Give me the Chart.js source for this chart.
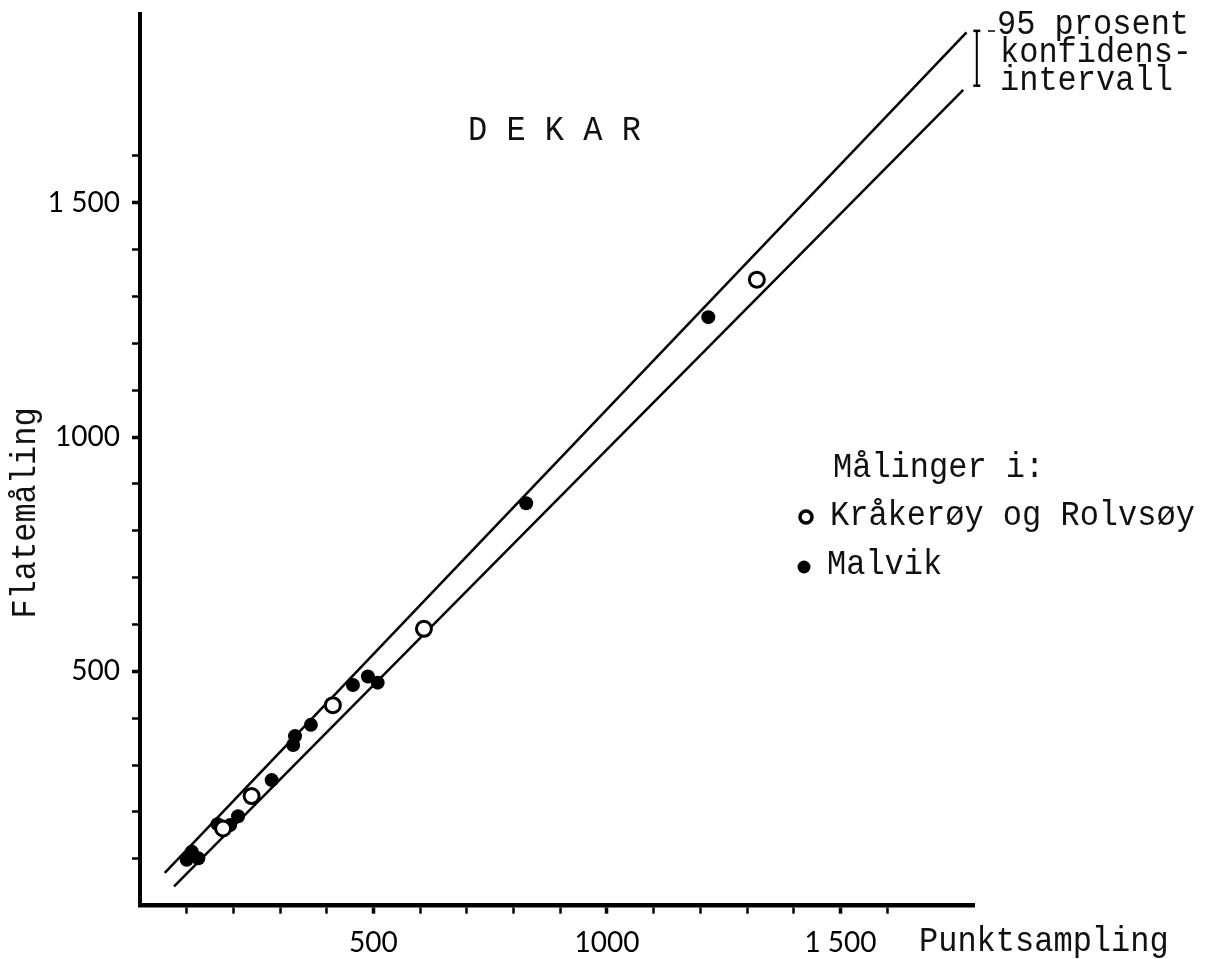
<!DOCTYPE html>
<html>
<head>
<meta charset="utf-8">
<script src="https://cdn.jsdelivr.net/npm/chart.js@4.4.0/dist/chart.umd.min.js"></script>
<style>
  html, body { margin: 0; padding: 0; background: #fff; }
  canvas { display: block; }
</style>
</head>
<body>
<canvas id="dekar-chart" width="1205" height="959"></canvas>
<script>
// data
// Kråkerøy og Rolvsøy (open circles)
const openX = [178, 239, 413, 608, 1321];
const openY = [165, 234, 428, 591, 1336];
// Malvik (filled dots)
const filledX = [100, 111, 125, 166, 193, 210, 282, 328, 332, 366, 456, 488, 509, 827, 1217];
const filledY = [98, 115, 101, 174, 172, 191, 268, 343, 362, 386, 471, 489, 476, 859, 1256];
// 95 % confidence lines
const upperLineX = [53, 1770];
const upperLineY = [70, 1864];
const lowerLineX = [73, 1763];
const lowerLineY = [41, 1741];
// bracket at the right end of the lines
const bracketX = [1792, 1792];
const bracketY = [1867, 1750];
// ticks (every 100, labels only on 500, 1000, 1500)
const tickValues = [100, 200, 300, 400, 500, 600, 700, 800, 900, 1000, 1100, 1200, 1300, 1400, 1500, 1600];
const labelledTicks = [500, 1000, 1500];
const tickText = ["500", "1000", "1 500"];

const toPoints = (xs, ys) => xs.map((x, i) => ({ x: x, y: ys[i] }));

const monoFont = '32px "Liberation Mono", "Courier New", monospace';
const textStretch = 1.12;

// typewriter text is a bit taller than Liberation Mono
function tallText(ctx, text, x, y) {
  ctx.save();
  ctx.translate(x, y);
  ctx.scale(1, textStretch);
  ctx.fillText(text, 0, 0);
  ctx.restore();
}

// free text: titles, legend, confidence label
const textPlugin = {
  id: "textPlugin",
  afterDraw(chart) {
    const ctx = chart.ctx;
    ctx.save();
    ctx.fillStyle = "#111";
    ctx.font = monoFont;
    ctx.textBaseline = "alphabetic";
    ctx.textAlign = "left";

    tallText(ctx, "D E K A R", 468, 140);
    tallText(ctx, "Punktsampling", 919, 951);

    // legend
    tallText(ctx, "Målinger i:", 833, 477);
    tallText(ctx, "Kråkerøy og Rolvsøy", 830, 525);
    tallText(ctx, "Malvik", 827, 574);
    ctx.lineWidth = 3.5;
    ctx.strokeStyle = "#000";
    ctx.beginPath();
    ctx.arc(806, 517, 6, 0, Math.PI * 2);
    ctx.stroke();
    ctx.fillStyle = "#000";
    ctx.beginPath();
    ctx.arc(804, 567, 6.5, 0, Math.PI * 2);
    ctx.fill();

    // confidence label
    ctx.fillStyle = "#111";
    tallText(ctx, "95 prosent", 997, 34);
    tallText(ctx, "konfidens-", 1000, 62);
    tallText(ctx, "intervall", 1000, 90);
    ctx.lineWidth = 1.5;
    ctx.beginPath();
    ctx.moveTo(988, 31);
    ctx.lineTo(995, 31);
    ctx.stroke();

    // y title
    ctx.translate(35, 513);
    ctx.rotate(-Math.PI / 2);
    ctx.scale(1, textStretch);
    ctx.textAlign = "center";
    ctx.fillText("Flatemåling", 0, 0);
    ctx.restore();
  },
};

const setTicks = (scale) => {
  scale.ticks = tickValues.map((v) => ({ value: v }));
};

// fixed axis boxes, no extra label padding around the plot area
const fitX = (scale) => {
  scale.height = 53.3;
  scale.paddingLeft = 0;
  scale.paddingRight = 0;
};
const fitY = (scale) => {
  scale.width = 140;
  scale.paddingTop = 0;
  scale.paddingBottom = 0;
};

const tickLabel = (value) => {
  const i = labelledTicks.indexOf(value);
  return i >= 0 ? tickText[i] : "";
};

const tickWidth = (ctx) => (labelledTicks.includes(ctx.tick && ctx.tick.value) ? 3.5 : 2.5);

const tickFont = { family: "Lato, 'DejaVu Sans', sans-serif", size: 28, weight: "400" };

const dekarChart = new Chart(document.getElementById("dekar-chart"), {
  type: "scatter",
  data: {
    datasets: [
      {
        label: "Kråkerøy og Rolvsøy",
        data: toPoints(openX, openY),
        pointStyle: "circle",
        pointRadius: 7.5,
        pointBorderWidth: 3,
        pointBorderColor: "#000",
        pointBackgroundColor: "#fff",
      },
      {
        label: "Malvik",
        data: toPoints(filledX, filledY),
        pointStyle: "circle",
        pointRadius: 7,
        pointBorderWidth: 0,
        pointBackgroundColor: "#000",
      },
      {
        label: "upper",
        data: toPoints(upperLineX, upperLineY),
        showLine: true,
        pointRadius: 0,
        borderColor: "#000",
        borderWidth: 2.5,
      },
      {
        label: "lower",
        data: toPoints(lowerLineX, lowerLineY),
        showLine: true,
        pointRadius: 0,
        borderColor: "#000",
        borderWidth: 2.5,
      },
      {
        label: "bracket",
        data: toPoints(bracketX, bracketY),
        showLine: true,
        clip: false,
        pointStyle: "line",
        pointRadius: 3.5,
        pointBorderWidth: 2.5,
        pointBorderColor: "#000",
        borderColor: "#000",
        borderWidth: 2,
      },
    ],
  },
  options: {
    responsive: false,
    animation: false,
    devicePixelRatio: 1,
    layout: {
      padding: { left: 0, right: 231, top: 14, bottom: 0 },
    },
    scales: {
      x: {
        type: "linear",
        min: 0,
        max: 1786,
        afterBuildTicks: setTicks,
        afterFit: fitX,
        border: { display: true, color: "#000", width: 4.5 },
        grid: {
          drawOnChartArea: false,
          drawTicks: true,
          tickLength: 8,
          tickColor: "#000",
          tickWidth: tickWidth,
        },
        ticks: {
          autoSkip: false,
          maxRotation: 0,
          padding: 12,
          color: "#000",
          font: tickFont,
          callback: tickLabel,
        },
      },
      y: {
        type: "linear",
        min: 0,
        max: 1903,
        afterBuildTicks: setTicks,
        afterFit: fitY,
        border: { display: true, color: "#000", width: 4 },
        grid: {
          drawOnChartArea: false,
          drawTicks: true,
          tickLength: 8,
          tickColor: "#000",
          tickWidth: tickWidth,
        },
        ticks: {
          autoSkip: false,
          padding: 12,
          color: "#000",
          font: tickFont,
          callback: tickLabel,
        },
      },
    },
    plugins: {
      legend: { display: false },
      tooltip: { enabled: false },
    },
  },
  plugins: [textPlugin],
});
</script>
</body>
</html>
